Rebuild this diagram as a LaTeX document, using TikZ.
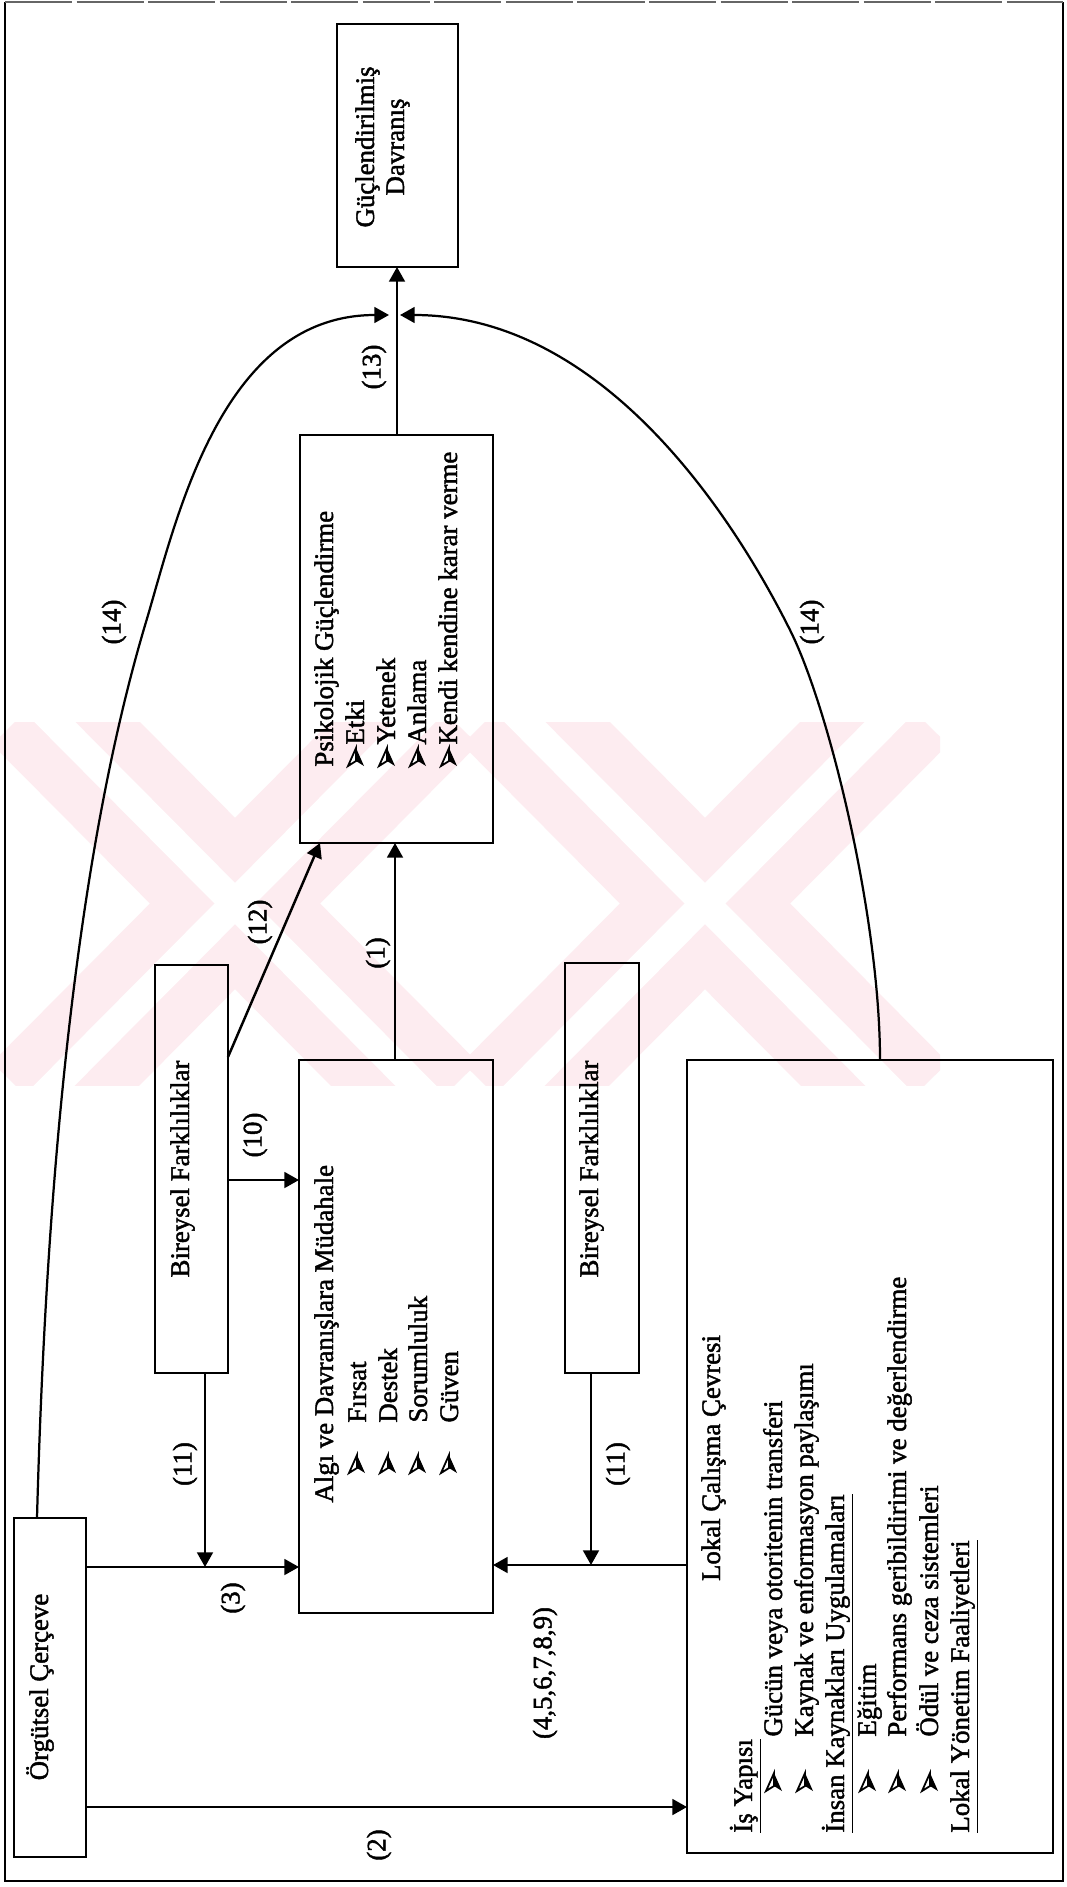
\documentclass[tikz,border=0pt]{standalone}
\usepackage{fontspec}
\setmainfont{Liberation Serif}[FakeBold=1.6]
\usetikzlibrary{arrows.meta,fit,calc}
\definecolor{wmpink}{RGB}{253,236,240}
\begin{document}
\begin{tikzpicture}[x=0.4472pt,y=-0.4472pt,
  box/.style={draw,line width=1.1pt,inner sep=0pt,outer sep=0pt},
  arr/.style={line width=1.1pt,-{Triangle[length=6.5pt,width=7pt]}},
  curv/.style={line width=1pt,-{Triangle[length=6.5pt,width=7pt]}},
  vtxt/.style={rotate=90,inner sep=0pt,font=\fontsize{12}{14}\selectfont},
  lbl/.style={vtxt,anchor=center},
  txtline/.style={vtxt,anchor=base west},
  ctr/.style={vtxt,anchor=base},
  band/.style={wmpink,line width=54pt},
  gap/.style={white,line width=13pt},
  dart/.pic={
    \filldraw[fill=white,line width=0.8pt,line join=miter] (0,-9) -- (-8,9) -- (0,4) -- cycle;
    \fill (0,-9) -- (8,9) -- (0,4) -- cycle;
  },
]
\useasboundingbox (0,0) rectangle (1067,1887);
\fill[white] (0,0) rectangle (1067,1887);

% faint background mark
\begin{scope}
  \clip (0,722) rectangle (940,1085);
  \foreach \cx in {235,705}{
    \draw[band] (\cx-200,702) -- (\cx+200,1105);
    \draw[band] (\cx+200,702) -- (\cx-200,1105);
    \draw[gap] (\cx-200,702) -- (\cx+200,1105);
    \draw[gap] (\cx+200,702) -- (\cx-200,1105);
  }
\end{scope}

% page frame
\draw[line width=0.9pt] (5,2) -- (5,1881) -- (1063,1881) -- (1063,2);
\draw[line width=0.8pt,black!60,dash pattern=on 30pt off 2pt] (5,2) -- (1063,2);

% boxes
\node[box,fit={(337,24) (458,267)}] (guc) {};
\node[box,fit={(300,435) (493,843)}] (psi) {};
\node[box,fit={(155,965) (228,1373)}] (bir1) {};
\node[box,fit={(299,1060) (493,1613)}] (alg) {};
\node[box,fit={(565,963) (639,1373)}] (bir2) {};
\node[box,fit={(687,1060) (1053,1853)}] (lok) {};
\node[box,fit={(14,1518) (86,1857)}] (org) {};

% box texts
\node[ctr] (gucA) at (374,147) {Güçlendirilmiş};
\node[ctr] (gucB) at (404,147) {Davranış};

\node[txtline] (psiT) at (333,767) {Psikolojik Güçlendirme};
\foreach \bx/\tx/\w [count=\i] in {356/364/Etki,387/395/Yetenek,418/426/Anlama,449/457/Kendi kendine karar verme}{
  \pic (psiB\i) at (\bx,757) {dart};
  \node[txtline] (psiL\i) at (\tx,745) {\w};
}

\node[ctr] (bir1T) at (189,1169) {Bireysel Farklılıklar};
\node[ctr] (bir2T) at (598,1169) {Bireysel Farklılıklar};

\node[txtline] (algT) at (333,1503) {Algı ve Davranışlara Müdahale};
\foreach \bx/\tx/\w [count=\i] in {357/366/Fırsat,388/397/Destek,418/427/Sorumluluk,449/458/Güven}{
  \pic (algB\i) at (\bx,1464) {dart};
  \node[txtline] (algL\i) at (\tx,1423) {\w};
}

\node[ctr] (lokT) at (720,1458) {Lokal Çalışma Çevresi};
\node[txtline] (lokH1) at (752,1833) {\underline{İş Yapısı}};
\node[txtline] (lokH2) at (844,1833) {\underline{İnsan Kaynakları Uygulamaları}};
\node[txtline] (lokH3) at (969,1833) {\underline{Lokal Yönetim Faaliyetleri}};
\foreach \bx/\tx/\w [count=\i] in {774/782/Gücün veya otoritenin transferi,805/813/Kaynak ve enformasyon paylaşımı,868/876/Eğitim,898/906/Performans geribildirimi ve değerlendirme,930/938/Ödül ve ceza sistemleri}{
  \pic (lokB\i) at (\bx,1782) {dart};
  \node[txtline] (lokL\i) at (\tx,1737) {\w};
}

\node[ctr] (orgT) at (48,1687) {Örgütsel Çerçeve};

% straight connectors
\coordinate (j11a) at (205,1567);
\coordinate (j11b) at (591,1565);
\draw[arr] (org.east |- 0,1807) -- (lok.west |- 0,1807);
\draw[arr] (org.east |- 0,1567) -- (alg.west |- 0,1567);
\draw[arr] (bir1.south -| j11a) -- (j11a);
\draw[arr] (lok.west |- 0,1565) -- (alg.east |- 0,1565);
\draw[arr] (bir2.south -| j11b) -- (j11b);
\draw[arr] (bir1.east |- 0,1180) -- (alg.west |- 0,1180);
\draw[arr] (bir1.east |- 0,1057) -- (psi.south -| 320,0);
\draw[arr] (alg.north -| 395,0) -- (psi.south -| 395,0);
\draw[arr] (psi.north -| 397,0) -- (guc.south -| 397,0);

% curved connectors
\coordinate (c14a) at (146,622);
\coordinate (t14a) at (389,315);
\draw[curv] (org.north -| 37,0) .. controls (45,1220) and (71,872) .. (c14a)
  .. controls (176,522) and (220,315) .. (t14a);
\coordinate (c14b) at (790,630);
\coordinate (t14b) at (400,315);
\draw[curv] (lok.north -| 880,0) .. controls (880,920) and (830,710) .. (c14b)
  .. controls (730,510) and (600,315) .. (t14b);

% connector labels
\node[lbl] (l13) at (374,367) {(13)};
\node[lbl] (l14a) at (114,622) {(14)};
\node[lbl] (l14b) at (812,622) {(14)};
\node[lbl] (l12) at (260,922) {(12)};
\node[lbl] (l1) at (378,953) {(1)};
\node[lbl] (l10) at (255,1135) {(10)};
\node[lbl] (l11a) at (185,1464) {(11)};
\node[lbl] (l11b) at (618,1464) {(11)};
\node[lbl] (l3) at (233,1598) {(3)};
\node[lbl] (l2) at (379,1845) {(2)};
\node[lbl] (l4) at (545,1673) {(4,5,6,7,8,9)};
\end{tikzpicture}
\end{document}
